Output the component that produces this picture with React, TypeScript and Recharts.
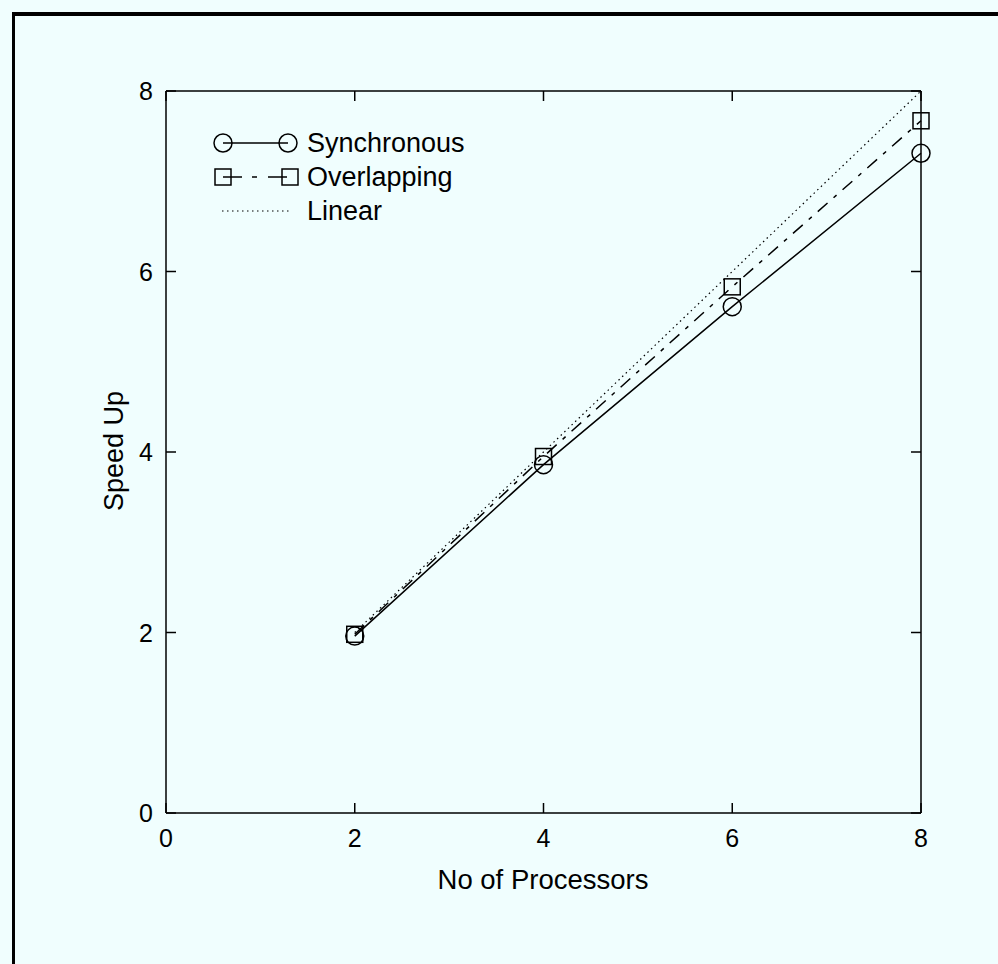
import React from "react";
import { LineChart, Line, XAxis, YAxis, Legend } from "recharts";

const processors = [2, 4, 6, 8];
const synchronous = [1.96, 3.86, 5.61, 7.31];
const overlapping = [1.98, 3.95, 5.83, 7.67];
const linear = [2, 4, 6, 8];
const xTicks = [0, 2, 4, 6, 8];
const yTicks = [0, 2, 4, 6, 8];
const seriesNames = ["Synchronous", "Overlapping", "Linear"];

const data = processors.map((p, i) => ({
  p,
  sync: synchronous[i],
  over: overlapping[i],
  lin: linear[i],
}));

const BG = "#f0fefe";
const FONT = "'Liberation Sans', Arial, Helvetica, sans-serif";
const DASH_DOT = "13 8 4 8";
const DOTTED = "1.5 3.5";
const AXIS_LINE = { stroke: "#000", strokeWidth: 1.5 };

// chart box
const W = 998;
const H = 964;
const MARGIN = { top: 61, right: 17, bottom: 121, left: 106 };
const X_AXIS_H = 30;
const Y_AXIS_W = 60;
const PLOT_TOP = MARGIN.top + X_AXIS_H;
const PLOT_RIGHT = W - MARGIN.right - Y_AXIS_W;
const TICK = 10;

const BottomTick = (props: any) => {
  const { x, y, payload } = props;
  return (
    <g>
      <line x1={x} y1={y} x2={x} y2={y - TICK} stroke="#000" strokeWidth={1.5} />
      <line x1={x} y1={PLOT_TOP} x2={x} y2={PLOT_TOP + TICK} stroke="#000" strokeWidth={1.5} />
      <text x={x} y={y + 34} textAnchor="middle" fontSize={25} fontFamily={FONT} fill="#000">
        {payload.value}
      </text>
    </g>
  );
};

const LeftTick = (props: any) => {
  const { x, y, payload } = props;
  return (
    <g>
      <line x1={x} y1={y} x2={x + TICK} y2={y} stroke="#000" strokeWidth={1.5} />
      <line x1={PLOT_RIGHT} y1={y} x2={PLOT_RIGHT - TICK} y2={y} stroke="#000" strokeWidth={1.5} />
      <text x={x - 13} y={y + 9} textAnchor="end" fontSize={25} fontFamily={FONT} fill="#000">
        {payload.value}
      </text>
    </g>
  );
};

const SquareDot = (props: any) => (
  <rect
    key={`sq${props.index}`}
    x={props.cx - 8}
    y={props.cy - 8}
    width={16}
    height={16}
    fill="none"
    stroke="#000"
    strokeWidth={1.5}
  />
);

const LegendBox = () => (
  <svg width={320} height={110} style={{ display: "block" }}>
    <line x1={23} y1={23} x2={88} y2={23} stroke="#000" strokeWidth={1.5} />
    <circle cx={23} cy={23} r={9} fill="none" stroke="#000" strokeWidth={1.5} />
    <circle cx={88} cy={23} r={9} fill="none" stroke="#000" strokeWidth={1.5} />
    <line x1={23} y1={57} x2={90} y2={57} stroke="#000" strokeWidth={1.5} strokeDasharray="19 10 5 11" />
    <rect x={15} y={49} width={16} height={16} fill="none" stroke="#000" strokeWidth={1.5} />
    <rect x={82} y={49} width={16} height={16} fill="none" stroke="#000" strokeWidth={1.5} />
    <line x1={22} y1={91} x2={90} y2={91} stroke="#000" strokeWidth={1.2} strokeDasharray={DOTTED} />
    {seriesNames.map((n, i) => (
      <text key={n} x={107} y={32 + i * 34} fontSize={27} fontFamily={FONT} fill="#000">
        {n}
      </text>
    ))}
  </svg>
);

export default function App() {
  return (
    <div style={{ position: "fixed", left: 0, top: 0, width: W, height: H, background: BG, overflow: "hidden" }}>
      <div
        style={{
          position: "absolute",
          left: 12,
          top: 12,
          width: 1000,
          height: 1000,
          borderTop: "4px solid #000",
          borderLeft: "3px solid #000",
        }}
      />
      <div style={{ position: "absolute", left: 0, top: 0 }}>
        <LineChart width={W} height={H} data={data} margin={MARGIN}>
          <XAxis
            dataKey="p"
            type="number"
            domain={[0, 8]}
            ticks={xTicks}
            height={X_AXIS_H}
            tickSize={0}
            tickMargin={0}
            tick={BottomTick}
            axisLine={AXIS_LINE}
          />
          <XAxis
            xAxisId="top"
            orientation="top"
            type="number"
            domain={[0, 8]}
            height={X_AXIS_H}
            tick={false}
            tickLine={false}
            axisLine={AXIS_LINE}
          />
          <YAxis
            type="number"
            domain={[0, 8]}
            ticks={yTicks}
            width={Y_AXIS_W}
            tickSize={0}
            tickMargin={0}
            tick={LeftTick}
            axisLine={AXIS_LINE}
          />
          <YAxis
            yAxisId="right"
            orientation="right"
            type="number"
            domain={[0, 8]}
            width={Y_AXIS_W}
            tick={false}
            tickLine={false}
            axisLine={AXIS_LINE}
          />
          <Legend
            layout="vertical"
            align="center"
            verticalAlign="middle"
            content={LegendBox}
            wrapperStyle={{ position: "absolute", left: 200, top: 120, width: 320, height: 110 }}
          />
          <Line
            dataKey="lin"
            stroke="#000"
            strokeWidth={1.2}
            strokeDasharray={DOTTED}
            dot={false}
            activeDot={false}
            isAnimationActive={false}
          />
          <Line
            dataKey="over"
            stroke="#000"
            strokeWidth={1.5}
            strokeDasharray={DASH_DOT}
            dot={SquareDot}
            activeDot={false}
            isAnimationActive={false}
          />
          <Line
            dataKey="sync"
            stroke="#000"
            strokeWidth={1.5}
            dot={{ r: 9, fill: "none", stroke: "#000", strokeWidth: 1.5 }}
            activeDot={false}
            isAnimationActive={false}
          />
        </LineChart>
      </div>
      <svg width={W} height={H} style={{ position: "absolute", left: 0, top: 0, pointerEvents: "none" }}>
        <text x={543} y={889} textAnchor="middle" fontSize={27.5} fontFamily={FONT} fill="#000">
          No of Processors
        </text>
        <text
          x={123}
          y={451}
          textAnchor="middle"
          fontSize={27}
          fontFamily={FONT}
          fill="#000"
          transform="rotate(-90 123 451)"
        >
          Speed Up
        </text>
      </svg>
    </div>
  );
}
